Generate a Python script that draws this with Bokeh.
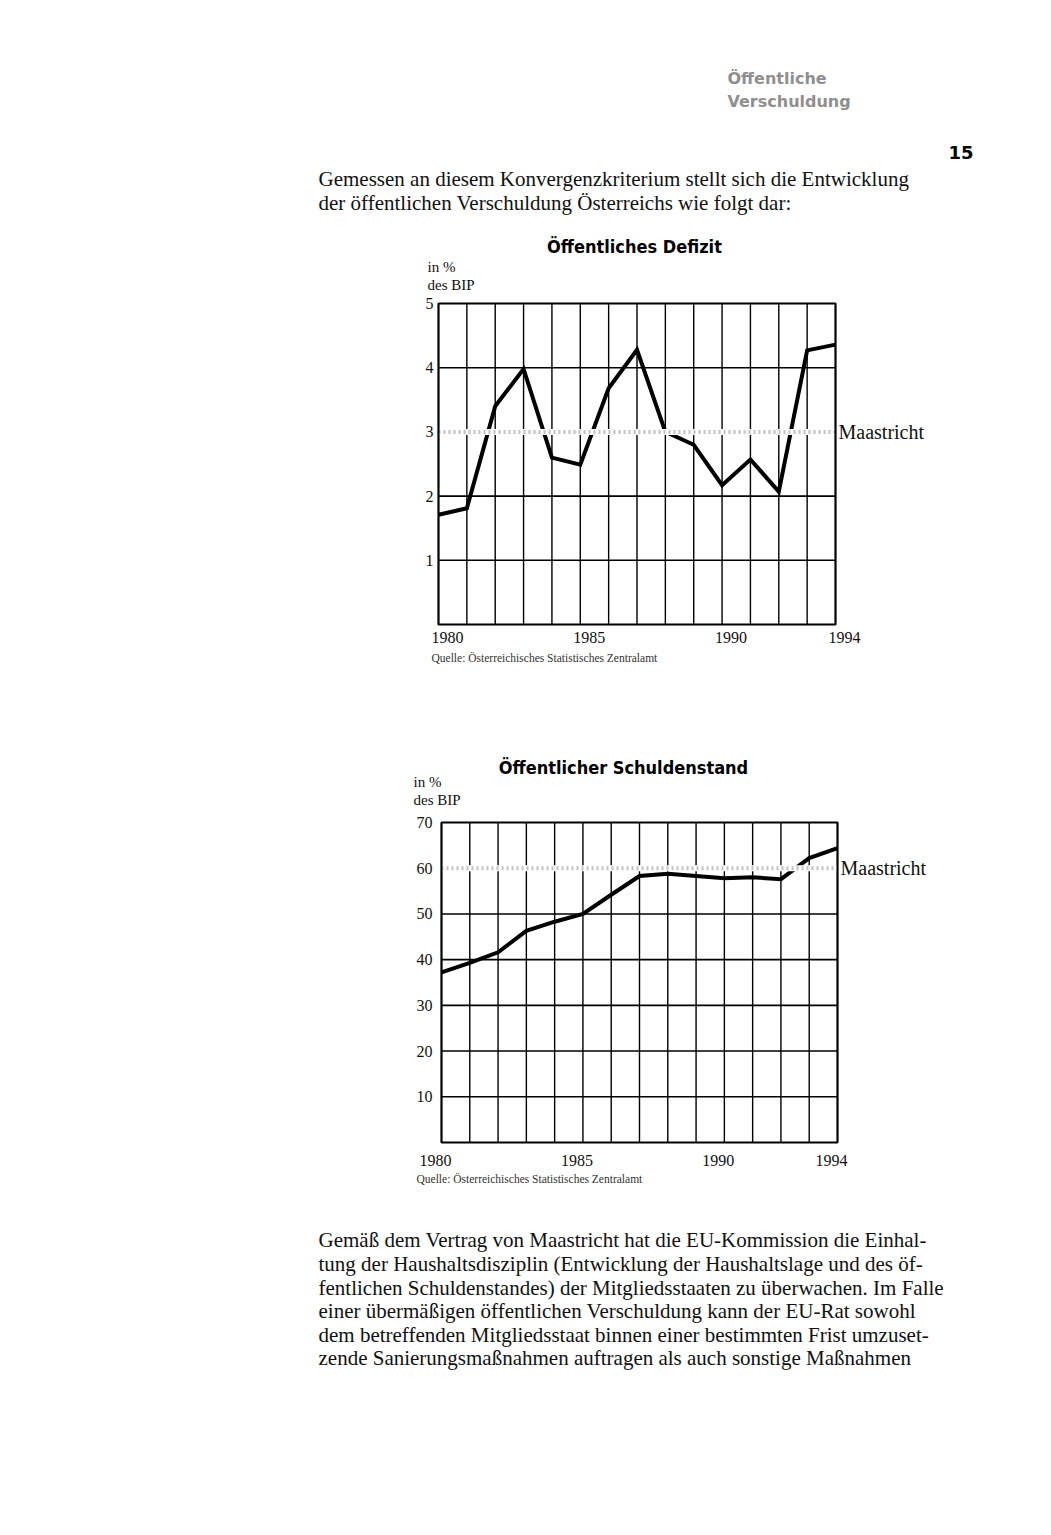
from bokeh.plotting import figure
from bokeh.models import Range1d
from bokeh.embed import file_html
from bokeh.resources import INLINE
from bokeh.core.properties import value

# ---------------- data ----------------
years = [1980, 1981, 1982, 1983, 1984, 1985, 1986, 1987, 1988, 1989, 1990, 1991, 1992, 1993, 1994]
defizit = [1.71, 1.81, 3.40, 3.98, 2.60, 2.49, 3.68, 4.28, 3.00, 2.80, 2.17, 2.57, 2.07, 4.27, 4.36]
schulden = [37.2, 39.3, 41.6, 46.3, 48.3, 50.0, 54.2, 58.3, 58.8, 58.3, 57.8, 58.0, 57.6, 62.2, 64.4]
year_labels = [1980, 1985, 1990, 1994]
defizit_ticks = [1, 2, 3, 4, 5]
schulden_ticks = [10, 20, 30, 40, 50, 60, 70]
maastricht_defizit = 3
maastricht_schulden = 60

title_defizit = "Öffentliches Defizit"
title_schulden = "Öffentlicher Schuldenstand"
unit_lines = ["in %", "des BIP"]
maastricht_label = "Maastricht"
source_text = "Quelle: Österreichisches Statistisches Zentralamt"

running_head = ["Öffentliche", "Verschuldung"]
page_number = "15"
para1 = [
    "Gemessen an diesem Konvergenzkriterium stellt sich die Entwicklung",
    "der öffentlichen Verschuldung Österreichs wie folgt dar:",
]
para2 = [
    "Gemäß dem Vertrag von Maastricht hat die EU-Kommission die Einhal-",
    "tung der Haushaltsdisziplin (Entwicklung der Haushaltslage und des öf-",
    "fentlichen Schuldenstandes) der Mitgliedsstaaten zu überwachen. Im Falle",
    "einer übermäßigen öffentlichen Verschuldung kann der EU-Rat sowohl",
    "dem betreffenden Mitgliedsstaat binnen einer bestimmten Frist umzuset-",
    "zende Sanierungsmaßnahmen auftragen als auch sonstige Maßnahmen",
]

# ---------------- page ----------------
W, H = 1051, 1535
SERIF = "Liberation Serif"
COND = "DejaVu Sans Condensed"
INK = "#111111"


def xr(v0, v1, p0, p1):
    """x range so that value v0 sits at page pixel p0 and v1 at p1."""
    a = (v1 - v0) / (p1 - p0)
    return Range1d(v0 - p0 * a, v0 + (W - p0) * a)


def yr(v0, v1, py0, py1):
    """y range so that value v0 sits at page pixel row py0 and v1 at row py1."""
    a = (v1 - v0) / (py0 - py1)
    return Range1d(v0 - (H - py0) * a, v0 + py0 * a)


p = figure(width=W, height=H, x_range=Range1d(0, W), y_range=Range1d(H, 0),
           output_backend="svg", toolbar_location=None, min_border=0,
           x_axis_location=None, y_axis_location=None)
p.grid.visible = False
p.outline_line_color = None
p.background_fill_color = "white"
p.border_fill_color = "white"

# ---------------- page text ----------------
p.text(x=[727, 727], y=[78, 101], text=running_head, text_font=value("DejaVu Sans"),
       text_font_style="bold", text_font_size="16px", text_color="#8f8f8f",
       text_baseline="middle")
p.text(x=[948], y=[152], text=[page_number], text_font=value("DejaVu Sans"),
       text_font_style="bold", text_font_size="18px", text_color="black", text_baseline="middle")
p.text(x=[318, 318], y=[178, 202], text=para1, text_font=value(SERIF),
       text_font_size="21px", text_color=INK, text_baseline="middle")
p.text(x=[318] * len(para2), y=[1239, 1263, 1287, 1310, 1334, 1357], text=para2,
       text_font=value(SERIF), text_font_size="21px", text_color=INK, text_baseline="middle")


# ---------------- charts ----------------
def chart(name, f_left, f_right, f_top, f_bottom, ymax, vals, yticks, mval, title,
          title_xy, unit_x, unit_y, tick_y, tick_dx, ylab_right, src_xy):
    xn, yn = name + "x", name + "y"
    p.extra_x_ranges[xn] = xr(years[0], years[-1], f_left, f_right)
    p.extra_y_ranges[yn] = yr(0, ymax, f_bottom, f_top)
    kw = dict(x_range_name=xn, y_range_name=yn)

    # grid lines
    p.segment(x0=years, y0=[0] * len(years), x1=years, y1=[ymax] * len(years),
              line_color="black", line_width=1.4, **kw)
    inner = yticks[:-1]
    p.segment(x0=[years[0]] * len(inner), y0=inner, x1=[years[-1]] * len(inner), y1=inner,
              line_color="black", line_width=1.6, **kw)

    # data line
    p.line(years, vals, line_color="black", line_width=4, line_join="miter", **kw)

    # Maastricht reference line
    p.line([years[0], years[-1]], [mval, mval], line_color="white", line_width=6, **kw)
    p.line([years[0], years[-1]], [mval, mval], line_color="#c2c2c2", line_width=4,
           line_dash="2 3", **kw)

    # frame
    p.quad(left=[years[0]], right=[years[-1]], bottom=[0], top=[ymax], fill_color=None,
           line_color="black", line_width=2, **kw)

    # tick labels
    p.text(x=year_labels, y=[tick_y] * len(year_labels), text=[str(v) for v in year_labels],
           x_offset=tick_dx, text_align="center", text_baseline="middle",
           text_font=value(SERIF), text_font_size="16px", text_color=INK,
           x_range_name=xn)
    p.text(x=[ylab_right] * len(yticks), y=yticks, text=[str(v) for v in yticks],
           text_align="right", text_baseline="middle", text_font=value(SERIF),
           text_font_size="16px", text_color=INK, y_range_name=yn)

    # texts around the frame
    p.text(x=[title_xy[0]], y=[title_xy[1]], text=[title], text_font=value(COND),
           text_font_style="bold", text_font_size="18px", text_color="black",
           text_align="center", text_baseline="middle")
    p.text(x=[unit_x, unit_x], y=[unit_y, unit_y + 18], text=unit_lines, text_font=value(SERIF),
           text_font_size="15px", text_color=INK, text_baseline="middle")
    p.text(x=[f_right + 3], y=[mval], text=[maastricht_label], text_font=value(SERIF),
           text_font_size="20px", text_color=INK, text_baseline="middle", y_range_name=yn)
    p.text(x=[src_xy[0]], y=[src_xy[1]], text=[source_text], text_font=value(SERIF),
           text_font_size="11.5px", text_color="#333333", text_baseline="middle")


chart("c1", 438, 835, 303, 624, 5, defizit, defizit_ticks, maastricht_defizit, title_defizit,
      (634, 246), 427, 266, 637, 9, 433, (431, 657))
chart("c2", 441, 837, 822, 1142, 70, schulden, schulden_ticks, maastricht_schulden, title_schulden,
      (623, 767), 413, 781, 1160, -6, 432, (416, 1178))

open("out.html", "w").write(file_html(p, INLINE))
